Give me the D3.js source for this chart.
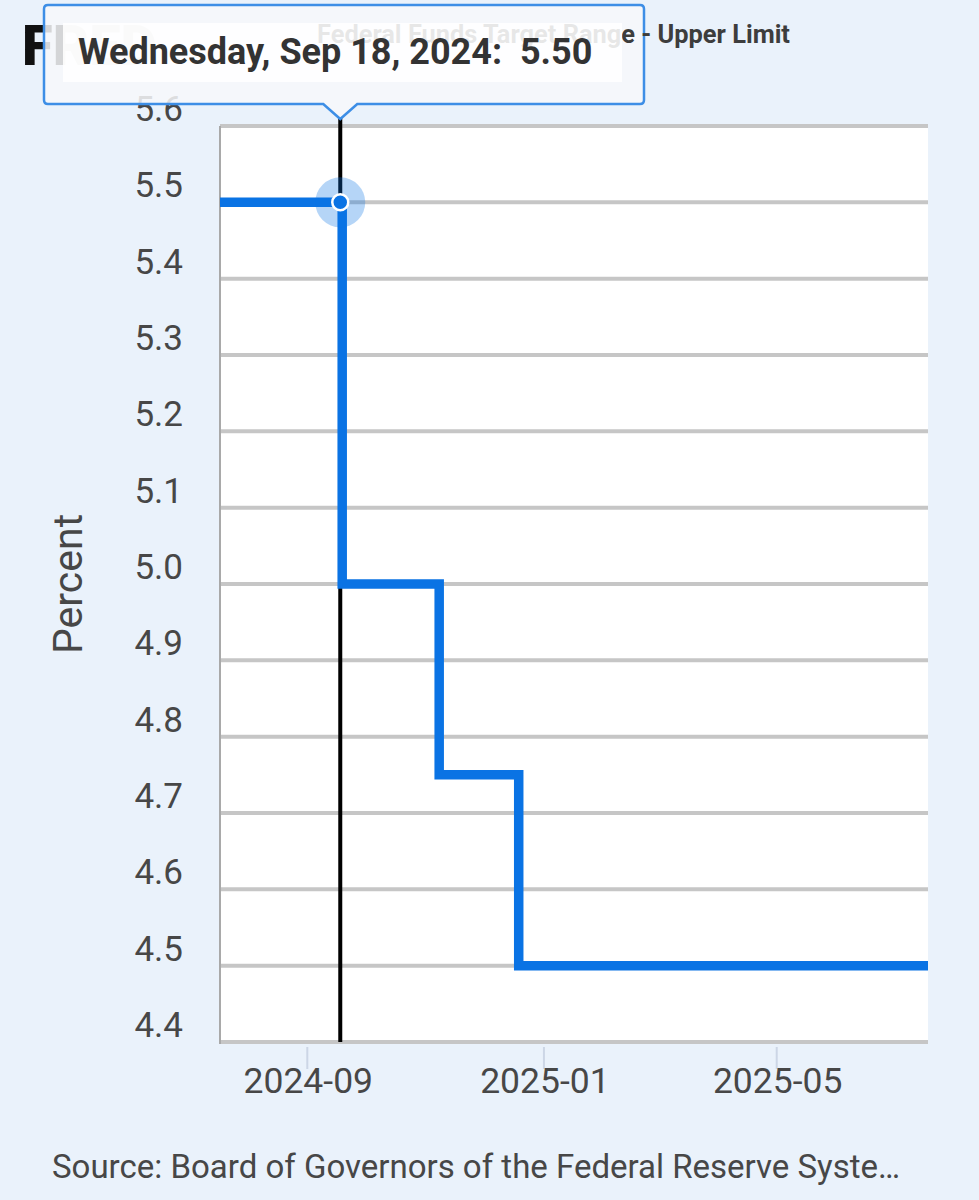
<!DOCTYPE html>
<html><head><meta charset="utf-8">
<script src="https://cdn.jsdelivr.net/npm/d3@7"></script>
<style>body{margin:0;background:#eaf2fb}svg{display:block}</style>
</head><body><svg id="c" width="979" height="1200"></svg>
<script>
const chartTitle = "Federal Funds Target Range - Upper Limit";
const sourceText = "Source: Board of Governors of the Federal Reserve Syste…";
const yAxisTitle = "Percent";
const logoText = "FRED";
const changeDates = ["2024-07-18", "2024-09-19", "2024-11-08", "2024-12-19", "2025-07-18"];
const rateValues = [5.50, 5.00, 4.75, 4.50, 4.50];
const xTickDates = ["2024-09-01", "2025-01-01", "2025-05-01"];
const xTickLabels = ["2024-09", "2025-01", "2025-05"];
const yTickValues = [4.4, 4.5, 4.6, 4.7, 4.8, 4.9, 5.0, 5.1, 5.2, 5.3, 5.4, 5.5, 5.6];
const xDomainDates = ["2024-07-18", "2025-07-18"];
const hoverDate = "2024-09-18";
const hoverValue = 5.50;
const hoverLabel = "Wednesday, Sep 18, 2024:";

const parse = d3.utcParse("%Y-%m-%d");
const data = changeDates.map((d, i) => ({date: parse(d), value: rateValues[i]}));

const svg = d3.select("#c");
const W = 979, H = 1200;
const plot = {left: 220, right: 928, top: 126, bottom: 1042};
const FONT = "Roboto, sans-serif";
const TXT = "#474747";

const x = d3.scaleUtc().domain(xDomainDates.map(parse)).range([plot.left, plot.right]);
const y = d3.scaleLinear().domain([4.4, 5.6]).range([plot.bottom, plot.top]);

svg.append("rect").attr("width", W).attr("height", H).attr("fill", "#eaf2fb");

// logo (under tooltip)
svg.append("text").attr("x", 22).attr("y", 65)
  .attr("font-family", FONT).attr("font-weight", 900)
  .attr("font-size", 56).attr("fill", "#111").text(logoText);

// plot background
svg.append("rect").attr("x", plot.left).attr("y", plot.top)
  .attr("width", plot.right - plot.left).attr("height", plot.bottom - plot.top)
  .attr("fill", "#ffffff");

// y grid
svg.append("g").selectAll("line").data(yTickValues).join("line")
  .attr("x1", plot.left).attr("x2", plot.right)
  .attr("y1", d => y(d)).attr("y2", d => y(d))
  .attr("stroke", "#c6c6c6").attr("stroke-width", 4);

// y axis line
svg.append("line").attr("x1", plot.left).attr("x2", plot.left)
  .attr("y1", plot.top).attr("y2", plot.bottom + 2)
  .attr("stroke", "#a9a9a9").attr("stroke-width", 2);

// y tick labels
svg.append("g").selectAll("text").data(yTickValues).join("text")
  .attr("x", 183).attr("y", d => y(d) - 5)
  .attr("text-anchor", "end")
  .attr("font-family", FONT).attr("font-size", 35)
  .attr("fill", TXT).text(d => d3.format(".1f")(d));

// y axis title
svg.append("text").attr("transform", `translate(82,${(plot.top + plot.bottom) / 2}) rotate(-90)`)
  .attr("text-anchor", "middle")
  .attr("font-family", FONT).attr("font-size", 41)
  .attr("fill", TXT).text(yAxisTitle);

// x ticks
const xt = xTickDates.map(parse);
svg.append("g").selectAll("line").data(xt).join("line")
  .attr("x1", d => x(d)).attr("x2", d => x(d))
  .attr("y1", plot.bottom + 5).attr("y2", plot.bottom + 27)
  .attr("stroke", "#ccd6e6").attr("stroke-width", 2);
svg.append("g").selectAll("text").data(xt).join("text")
  .attr("x", d => x(d) + 1).attr("y", 1093)
  .attr("text-anchor", "middle")
  .attr("font-family", FONT).attr("font-size", 35.5)
  .attr("fill", TXT).text((d, i) => xTickLabels[i]);

// crosshair
const hx = x(parse(hoverDate));
svg.append("line").attr("x1", hx).attr("x2", hx)
  .attr("y1", plot.top - 8).attr("y2", plot.bottom)
  .attr("stroke", "#000").attr("stroke-width", 4);

// series
const line = d3.line().x(d => x(d.date)).y(d => y(d.value)).curve(d3.curveStepAfter);
svg.append("path").datum(data).attr("d", line)
  .attr("fill", "none").attr("stroke", "#0a73e4").attr("stroke-width", 9.5)
  .attr("stroke-linejoin", "miter").attr("stroke-linecap", "butt");

// hover marker
svg.append("circle").attr("cx", hx).attr("cy", y(hoverValue)).attr("r", 25)
  .attr("fill", "rgba(10,115,228,0.3)");
svg.append("circle").attr("cx", hx).attr("cy", y(hoverValue)).attr("r", 8)
  .attr("fill", "#0a73e4").attr("stroke", "#fff").attr("stroke-width", 2.5);

// tooltip box
const tip = {x1: 44, x2: 644, y1: 5, y2: 104};
const tipPath = `M${tip.x1 + 4},${tip.y1} H${tip.x2 - 4} Q${tip.x2},${tip.y1} ${tip.x2},${tip.y1 + 4} V${tip.y2 - 4} Q${tip.x2},${tip.y2} ${tip.x2 - 4},${tip.y2} H${hx + 17} L${hx},${tip.y2 + 15} L${hx - 17},${tip.y2} H${tip.x1 + 4} Q${tip.x1},${tip.y2} ${tip.x1},${tip.y2 - 4} V${tip.y1 + 4} Q${tip.x1},${tip.y1} ${tip.x1 + 4},${tip.y1} Z`;
svg.append("path").attr("d", tipPath)
  .attr("fill", "rgba(247,248,250,0.85)").attr("stroke", "#3d8ee6").attr("stroke-width", 2.5);

// chart title (above tooltip box)
svg.append("text").attr("x", 317).attr("y", 43)
  .attr("font-family", FONT).attr("font-weight", 700)
  .attr("font-size", 25.4).attr("fill", "#3d3d3d").text(chartTitle);

// tooltip inner
svg.append("rect").attr("x", 63).attr("y", 23).attr("width", 559).attr("height", 59)
  .attr("fill", "rgba(255,255,255,0.88)");
svg.append("text").attr("x", 78).attr("y", 64)
  .style("white-space", "pre")
  .attr("font-family", FONT).attr("font-weight", 700)
  .attr("font-size", 36).attr("fill", "#333").text(hoverLabel + "  " + d3.format(".2f")(hoverValue));

// source
svg.append("text").attr("x", 52).attr("y", 1178)
  .attr("font-family", FONT).attr("font-size", 33)
  .attr("fill", TXT).text(sourceText);
</script></body></html>
